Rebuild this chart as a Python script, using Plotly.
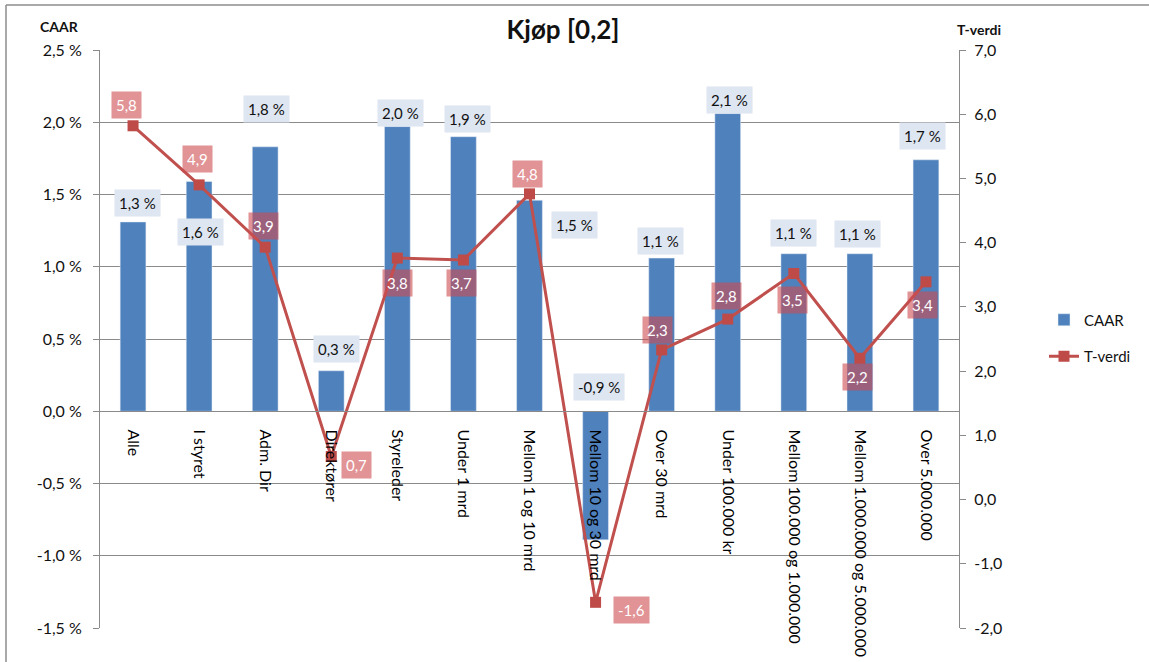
import plotly.graph_objects as go

# --- data -------------------------------------------------------------
categories = [
    "Alle", "I styret", "Adm. Dir", "Direktører", "Styreleder", "Under 1 mrd",
    "Mellom 1 og 10 mrd", "Mellom 10 og 30 mrd", "Over 30 mrd", "Under 100.000 kr",
    "Mellom 100.000 og 1.000.000", "Mellom 1.000.000 og 5.000.000", "Over 5.000.000",
]
caar = [1.31, 1.59, 1.83, 0.28, 1.97, 1.90, 1.46, -0.89, 1.06, 2.06, 1.09, 1.09, 1.74]
t_verdi = [5.82, 4.90, 3.93, 0.67, 3.76, 3.73, 4.76, -1.60, 2.33, 2.81, 3.52, 2.20, 3.39]

caar_ticks = [-1.5, -1.0, -0.5, 0.0, 0.5, 1.0, 1.5, 2.0, 2.5]
t_ticks = [-2, -1, 0, 1, 2, 3, 4, 5, 6, 7]

# --- label placement (pixel offsets from each mark) ---------------------
caar_label_dx = [4, 1, 1, 5, 3, 4, 45, 3, -1, 2, 0, -2, -3]
caar_label_dy = [19, -51, 38, 22, 14, 18, -25, 153, 17, 14, 21, 20, 24]
t_label_dx = [-7, -2, -2, 25, 0, -2, -2, 36, -4, -1, -1, -2, -3]
t_label_dy = [21, 26, 21, -8, -25, -23, 20, -8, 20, 23, -27, -19, -23]

FONT = "Lato, 'Open Sans', sans-serif"
BLUE = "#4f81bd"
RED = "#c0504d"
GRID = "#8a8a8a"


def fmt(v):
    return f"{v:.1f}".replace(".", ",")


W, H = 1149, 662
L, R, T, B = 100, 190, 50, 34
pw, ph = W - L - R, H - T - B


def px_x(x):
    return (x - L) / pw


def px_y(y):
    return (H - B - y) / ph


fig = go.Figure()
fig.add_trace(go.Bar(
    x=categories, y=caar, name="CAAR", marker_color=BLUE, width=0.39,
    yaxis="y", legendgroup="caar",
))
fig.add_trace(go.Scatter(
    x=categories, y=t_verdi, name="T-verdi", mode="lines+markers",
    line=dict(color=RED, width=3), marker=dict(symbol="square", size=11, color="#be4b48"),
    yaxis="y2", legendgroup="t",
))

annotations = []
for c, v, dx, dy in zip(categories, caar, caar_label_dx, caar_label_dy):
    annotations.append(dict(
        x=c, y=v, xref="x", yref="y", text=fmt(v) + " %", showarrow=False,
        xshift=dx, yshift=dy, bgcolor="#dde6f1", borderpad=4,
        font=dict(family=FONT, size=15, color="#111"),
    ))
for c, v, dx, dy in zip(categories, t_verdi, t_label_dx, t_label_dy):
    annotations.append(dict(
        x=c, y=v, xref="x", yref="y2", text=fmt(v), showarrow=False,
        xshift=dx, yshift=dy, bgcolor="rgba(205,75,80,0.6)", borderpad=4,
        font=dict(family=FONT, size=15, color="white"),
    ))

# axis titles above each value axis
annotations.append(dict(
    x=px_x(59), y=px_y(27), xref="paper", yref="paper", text="<b>CAAR</b>",
    xanchor="center", yanchor="middle",
    showarrow=False, font=dict(family=FONT, size=14, color="#111"),
))
annotations.append(dict(
    x=px_x(979), y=px_y(30), xref="paper", yref="paper", text="<b>T-verdi</b>",
    xanchor="center", yanchor="middle",
    showarrow=False, font=dict(family=FONT, size=14, color="#111"),
))

shapes = [
    dict(type="line", xref="paper", yref="paper", x0=px_x(6), x1=px_x(6),
         y0=px_y(5), y1=px_y(700), line=dict(color="#8c8c8c", width=1.5)),
    dict(type="line", xref="paper", yref="paper", x0=px_x(6), x1=px_x(1200),
         y0=px_y(5), y1=px_y(5), line=dict(color="#8c8c8c", width=1.5)),
]

fig.update_layout(
    width=W, height=H,
    margin=dict(l=L, r=R, t=T, b=B, autoexpand=False),
    paper_bgcolor="white", plot_bgcolor="white",
    separators=", ",
    font=dict(family=FONT, size=16, color="#111"),
    title=dict(
        text="<b>Kjøp [0,2]</b>", x=563 / W, xanchor="center", xref="container",
        y=1 - 30 / H, yanchor="middle", yref="container", automargin=False,
        font=dict(family=FONT, size=26, color="#111"),
    ),
    xaxis=dict(
        anchor="free", position=1.5 / 4.0, automargin=False,
        tickangle=90, showgrid=False, showline=True, linecolor=GRID, linewidth=1,
        ticks="", ticklabelstandoff=14, tickfont=dict(family=FONT, size=16, color="#000"),
        range=[-0.5, 12.5],
    ),
    yaxis=dict(
        range=[-1.5, 2.5], tickvals=caar_ticks, automargin=False,
        ticktext=[fmt(v) + " %" for v in caar_ticks],
        showgrid=True, gridcolor=GRID, gridwidth=1,
        zeroline=True, zerolinecolor=GRID, zerolinewidth=1,
        showline=True, linecolor=GRID, linewidth=1,
        ticks="outside", ticklen=6, tickcolor=GRID, ticklabelstandoff=8,
        tickfont=dict(family=FONT, size=16, color="#111"),
    ),
    yaxis2=dict(
        range=[-2, 7], tickvals=t_ticks, ticktext=[fmt(v) for v in t_ticks],
        overlaying="y", side="right", showgrid=False, zeroline=False, automargin=False,
        showline=True, linecolor=GRID, linewidth=1,
        ticks="outside", ticklen=6, tickcolor=GRID, ticklabelstandoff=5,
        tickfont=dict(family=FONT, size=16, color="#111"),
    ),
    legend=dict(
        x=px_x(1044), y=px_y(338), xanchor="left", yanchor="middle",
        font=dict(family=FONT, size=15, color="#111"), bgcolor="rgba(0,0,0,0)",
        tracegroupgap=14,
    ),
    bargap=0.6,
    annotations=annotations,
    shapes=shapes,
)

fig.write_html("out.html", config={"displayModeBar": False})
